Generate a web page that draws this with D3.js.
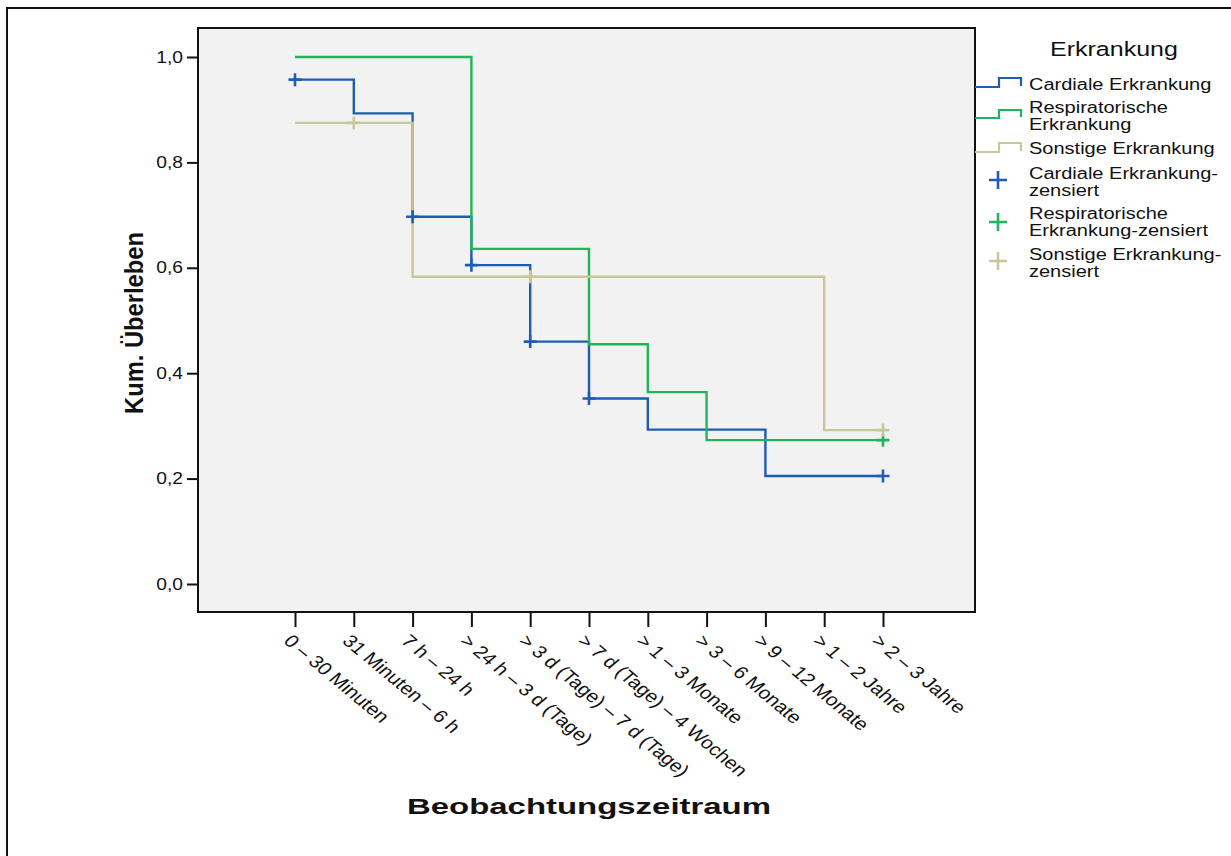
<!DOCTYPE html>
<html>
<head>
<meta charset="utf-8">
<script src="https://cdn.jsdelivr.net/npm/d3@7"></script>
<style>
  html, body { margin: 0; padding: 0; background: #fff; }
  svg { display: block; font-family: "Liberation Sans", Arial, sans-serif; }
</style>
</head>
<body>
<svg id="chart" width="1231" height="856"></svg>
<script>
// Observation intervals (x axis categories)
const intervals = [
  "0 – 30 Minuten",
  "31 Minuten – 6 h",
  "7 h – 24 h",
  "> 24 h – 3 d (Tage)",
  "> 3 d (Tage) – 7 d (Tage)",
  "> 7 d (Tage) – 4 Wochen",
  "> 1 – 3 Monate",
  "> 3 – 6 Monate",
  "> 9 – 12 Monate",
  "> 1 – 2 Jahre",
  "> 2 – 3 Jahre"
];

// Cumulative survival per interval
const cardiale        = [0.957, 0.893, 0.697, 0.605, 0.460, 0.352, 0.293, 0.293, 0.205, 0.205, 0.205];
const respiratorische = [1.000, 1.000, 1.000, 0.636, 0.636, 0.455, 0.364, 0.273, 0.273, 0.273, 0.273];
const sonstige        = [0.875, 0.875, 0.583, 0.583, 0.583, 0.583, 0.583, 0.583, 0.583, 0.292, 0.292];

// Intervals holding censored cases
const cardialeCensored        = [0, 2, 3, 4, 5, 10];
const respiratorischeCensored = [10];
const sonstigeCensored        = [1, 4, 10];

const yTicks = [0, 0.2, 0.4, 0.6, 0.8, 1.0];

const seriesNames = ["Cardiale Erkrankung", "Respiratorische Erkrankung", "Sonstige Erkrankung"];
const colors = ["#1f5db5", "#22b45c", "#c9c699"];

const series = [
  { name: seriesNames[0], values: cardiale, censored: cardialeCensored, color: colors[0] },
  { name: seriesNames[1], values: respiratorische, censored: respiratorischeCensored, color: colors[1] },
  { name: seriesNames[2], values: sonstige, censored: sonstigeCensored, color: colors[2] }
];

const svg = d3.select("#chart");
const HS = 1.2; // horizontal stretch applied to text

// widen a text element horizontally by a factor
function widen(sel, f) {
  sel.each(function () {
    const w = this.getComputedTextLength();
    d3.select(this).attr("textLength", w * f).attr("lengthAdjust", "spacingAndGlyphs");
  });
}

// outer frame (left and top edges)
svg.append("path")
  .attr("d", "M7,856 V8 H1231")
  .attr("fill", "none").attr("stroke", "#111").attr("stroke-width", 2);

const plot = { left: 198, top: 28, right: 975, bottom: 612 };

const x = d3.scaleLinear().domain([0, intervals.length - 1]).range([295, 883]);
const y = d3.scaleLinear().domain([0, 1]).range([584, 57]);

svg.append("rect")
  .attr("x", plot.left).attr("y", plot.top)
  .attr("width", plot.right - plot.left).attr("height", plot.bottom - plot.top)
  .attr("fill", "#f2f2f2");

// y axis
const yAxis = svg.append("g")
  .attr("transform", `translate(${plot.left},0)`)
  .call(d3.axisLeft(y).tickValues(yTicks).tickSize(11).tickPadding(4)
    .tickFormat(d => d3.format(".1f")(d).replace(".", ",")));
yAxis.select(".domain").remove();
yAxis.selectAll(".tick line").attr("stroke", "#111").attr("stroke-width", 2);
yAxis.selectAll(".tick text")
  .attr("font-size", 16).attr("fill", "#111")
  .attr("font-family", "'Liberation Sans', Arial, sans-serif")
  .call(widen, HS);

// x axis
const xAxis = svg.append("g")
  .attr("transform", `translate(0,${plot.bottom})`)
  .call(d3.axisBottom(x).tickValues(d3.range(intervals.length)).tickSize(15).tickFormat(""));
xAxis.select(".domain").remove();
xAxis.selectAll(".tick line").attr("stroke", "#111").attr("stroke-width", 2);

xAxis.selectAll(".tick")
  .append("text")
  .attr("fill", "#111")
  .attr("font-size", 17.5)
  .attr("font-family", "'Liberation Sans', Arial, sans-serif")
  .attr("text-anchor", "start")
  .attr("transform", `translate(-13,30) scale(${HS},1) rotate(45)`)
  .text(d => intervals[d]);

// survival step curves
const line = d3.line()
  .x((d, i) => x(i))
  .y(d => y(d))
  .curve(d3.curveStepAfter);

const curves = svg.append("g");
series.forEach(s => {
  curves.append("path")
    .datum(s.values)
    .attr("fill", "none")
    .attr("stroke", s.color)
    .attr("stroke-width", 2.4)
    .attr("d", line);
});

// censor markers
const plusPath = (cx, cy, hw, hh) => `M${cx - hw},${cy}H${cx + hw}M${cx},${cy - hh}V${cy + hh}`;
series.forEach(s => {
  curves.append("g").selectAll("path")
    .data(s.censored)
    .join("path")
    .attr("fill", "none")
    .attr("stroke", s.color)
    .attr("stroke-width", 2.6)
    .attr("d", i => plusPath(x(i), y(s.values[i]), 6.5, 6.5));
});

// plot frame
svg.append("rect")
  .attr("x", plot.left).attr("y", plot.top)
  .attr("width", plot.right - plot.left).attr("height", plot.bottom - plot.top)
  .attr("fill", "none").attr("stroke", "#111").attr("stroke-width", 2);

// axis titles
svg.append("text")
  .attr("transform", "translate(143,323) rotate(-90)")
  .attr("text-anchor", "middle")
  .attr("font-size", 25).attr("font-weight", "bold").attr("fill", "#111")
  .attr("textLength", 182).attr("lengthAdjust", "spacingAndGlyphs")
  .text("Kum. Überleben");

svg.append("text")
  .attr("x", 589).attr("y", 814)
  .attr("text-anchor", "middle")
  .attr("font-size", 22).attr("font-weight", "bold").attr("fill", "#111")
  .attr("textLength", 364).attr("lengthAdjust", "spacingAndGlyphs")
  .text("Beobachtungszeitraum");

// legend
const legend = svg.append("g");
legend.append("text")
  .attr("x", 1114).attr("y", 56)
  .attr("text-anchor", "middle")
  .attr("font-size", 20.5).attr("fill", "#111")
  .text("Erkrankung")
  .call(widen, 1.22);

// each legend line is its own text element, stretched like the rest
const legendText = (lines, x0, baseline) => {
  lines.forEach((l, k) => {
    legend.append("text")
      .attr("x", x0).attr("y", baseline + k * 16.5)
      .attr("font-size", 16).attr("fill", "#111")
      .text(l)
      .call(widen, 1.25);
  });
};

const stepRows = [
  { lines: ["Cardiale Erkrankung"], base: 90, low: 87, high: 78 },
  { lines: ["Respiratorische", "Erkrankung"], base: 113, low: 118, high: 110 },
  { lines: ["Sonstige Erkrankung"], base: 154, low: 152, high: 143 }
];
stepRows.forEach((r, k) => {
  legend.append("path")
    .attr("d", `M975,${r.low}H999V${r.high}H1021V${r.low - 1}`)
    .attr("fill", "none").attr("stroke", colors[k]).attr("stroke-width", 2.2);
  legendText(r.lines, 1029, r.base);
});

const plusRows = [
  { lines: ["Cardiale Erkrankung-", "zensiert"], base: 179, cy: 180 },
  { lines: ["Respiratorische", "Erkrankung-zensiert"], base: 219, cy: 222 },
  { lines: ["Sonstige Erkrankung-", "zensiert"], base: 260, cy: 261 }
];
plusRows.forEach((r, k) => {
  legend.append("path")
    .attr("d", plusPath(998, r.cy, 9, 9))
    .attr("fill", "none").attr("stroke", colors[k]).attr("stroke-width", 2.6);
  legendText(r.lines, 1029, r.base);
});
</script>
</body>
</html>
